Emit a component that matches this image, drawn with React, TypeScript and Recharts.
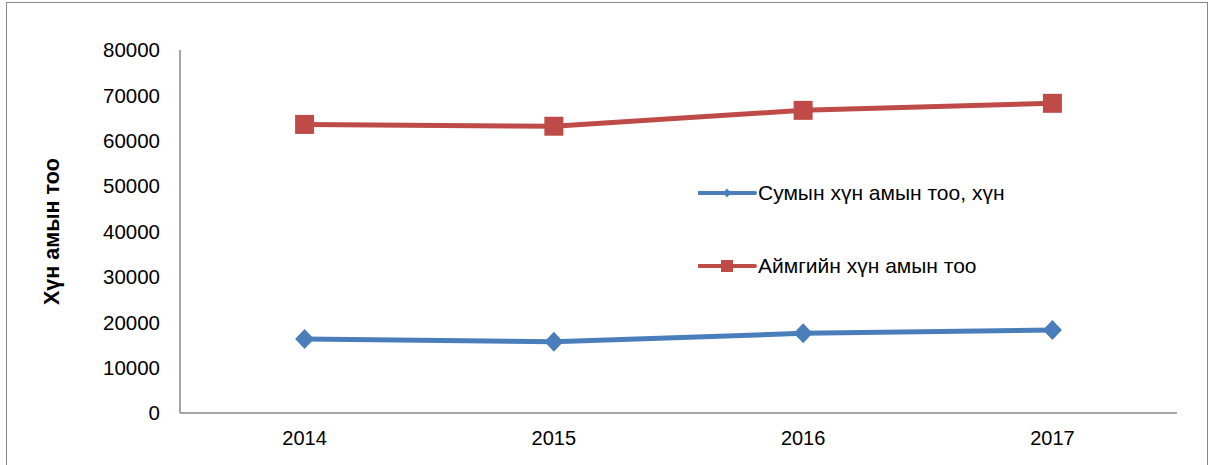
import { LineChart, Line, XAxis, YAxis, Legend } from 'recharts';

const YEARS = ['2014', '2015', '2016', '2017'];
const SUM_POP = [16300, 15700, 17550, 18300];
const AIMAG_POP = [63600, 63200, 66700, 68250];
const Y_TICKS = [0, 10000, 20000, 30000, 40000, 50000, 60000, 70000, 80000];

const SUM_NAME = 'Сумын хүн амын тоо, хүн';
const AIMAG_NAME = 'Аймгийн хүн амын тоо';

const BLUE = '#4A7EBB';
const RED = '#BE4B48';
const AXIS = '#868686';
const FONT = '"Liberation Sans", Arial, sans-serif';

const data = YEARS.map((year, i) => ({
  year,
  sum: SUM_POP[i],
  aimag: AIMAG_POP[i],
}));

const Diamond = (props: any) => {
  const { cx, cy } = props;
  if (cx == null || cy == null) return null;
  return (
    <polygon
      points={`${cx},${cy - 10} ${cx + 9.5},${cy} ${cx},${cy + 10} ${cx - 9.5},${cy}`}
      fill={BLUE}
    />
  );
};

const Square = (props: any) => {
  const { cx, cy } = props;
  if (cx == null || cy == null) return null;
  return <rect x={cx - 9.5} y={cy - 9.5} width={19} height={19} fill={RED} />;
};

const LegendContent = () => (
  <div style={{ fontFamily: FONT, fontSize: 21, color: '#000', textAlign: 'left' }}>
    <div style={{ display: 'flex', alignItems: 'center', height: 24 }}>
      <svg width={60} height={20}>
        <line x1={1} y1={10} x2={57} y2={10} stroke={BLUE} strokeWidth={4} strokeLinecap="round" />
        <polygon points="29,5.5 33,10 29,14.5 25,10" fill={BLUE} />
      </svg>
      <span>{SUM_NAME}</span>
    </div>
    <div style={{ display: 'flex', alignItems: 'center', height: 24, marginTop: 49 }}>
      <svg width={60} height={20}>
        <line x1={1} y1={10} x2={57} y2={10} stroke={RED} strokeWidth={4} strokeLinecap="round" />
        <rect x={23} y={4} width={12} height={12} fill={RED} />
      </svg>
      <span>{AIMAG_NAME}</span>
    </div>
  </div>
);

export default function App() {
  return (
    <div style={{ position: 'absolute', left: 0, top: 0, width: 1210, height: 465, background: '#fff', overflow: 'hidden' }}>
      <div
        style={{
          position: 'absolute',
          left: 6,
          top: 2,
          width: 1200,
          height: 480,
          border: `1.5px solid ${AXIS}`,
        }}
      />
      <LineChart
        width={1210}
        height={465}
        data={data}
        margin={{ top: 50, right: 33, bottom: 0, left: 0 }}
        style={{ position: 'absolute', left: 0, top: 0, fontFamily: FONT }}
      >
        <XAxis
          dataKey="year"
          height={52}
          padding={{ left: 124.6, right: 124.6 }}
          axisLine={{ stroke: AXIS, strokeWidth: 1.5 }}
          tickLine={false}
          tickSize={0}
          tickMargin={18}
          tick={{ fill: '#000', fontSize: 20 }}
        />
        <YAxis
          width={180}
          domain={[0, 80000]}
          ticks={Y_TICKS}
          interval={0}
          axisLine={{ stroke: AXIS, strokeWidth: 1.5 }}
          tickLine={false}
          tickSize={0}
          tickMargin={20}
          tick={{ fill: '#000', fontSize: 20.5 }}
          label={{
            value: 'Хүн амын тоо',
            angle: -90,
            position: 'insideLeft',
            offset: 51,
            style: { textAnchor: 'middle', fontWeight: 'bold', fontSize: 21.5, fill: '#000' },
          }}
        />
        <Legend
          layout="vertical"
          verticalAlign="middle"
          align="center"
          content={<LegendContent />}
          wrapperStyle={{ left: 698, top: 181, width: 420 }}
        />
        <Line
          dataKey="sum"
          name={SUM_NAME}
          stroke={BLUE}
          strokeWidth={5}
          dot={<Diamond />}
          activeDot={false}
          isAnimationActive={false}
        />
        <Line
          dataKey="aimag"
          name={AIMAG_NAME}
          stroke={RED}
          strokeWidth={5}
          dot={<Square />}
          activeDot={false}
          isAnimationActive={false}
        />
      </LineChart>
    </div>
  );
}
